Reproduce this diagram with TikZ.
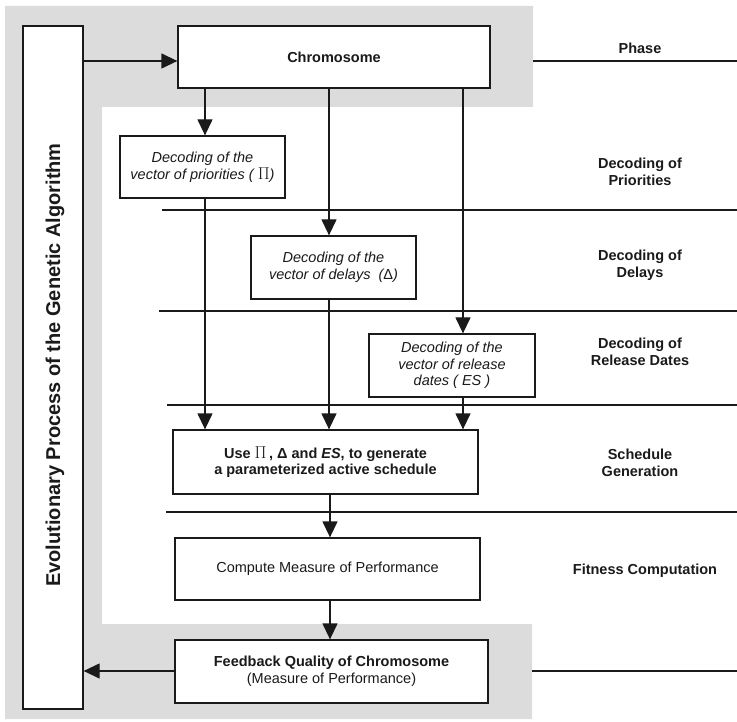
\documentclass[tikz,border=0pt]{standalone}
\usepackage{fontspec}
\setmainfont{Liberation Sans}
\usetikzlibrary{arrows.meta}
\definecolor{bggray}{HTML}{DCDCDC}
\definecolor{ink}{HTML}{1A1A1A}
\newcommand{\bigPi}{{\fontsize{18}{18}\selectfont$\Pi$}}
\begin{document}
\begin{tikzpicture}[x=1pt,y=-1pt,
  box/.style={draw=ink, line width=1.3pt, fill=white, inner sep=0pt, align=center, text=ink},
  lbl/.style={inner sep=0pt, align=center, text=ink, font=\bfseries\fontsize{14.5}{16.7}\selectfont},
  arr/.style={draw=ink, line width=1.3pt, -{Triangle[length=16pt,width=15pt]}},
  phl/.style={draw=ink, line width=1.3pt}]
\useasboundingbox (0,0) rectangle (737,722);
% gray background
\fill[bggray] (5,6) -- (533,6) -- (533,107) -- (102,107) -- (102,624) -- (532,624) -- (532,719) -- (5,719) -- cycle;
% boxes
\node[box, minimum width=60, minimum height=683] (evo) at (53,367.5) {};
\node[text=ink, rotate=90, inner sep=0pt, font=\bfseries\fontsize{20}{24}\selectfont] (evot) at (55,365) {Evolutionary Process of the Genetic Algorithm};
\node[box, minimum width=312, minimum height=62, font=\bfseries\fontsize{14.5}{16.7}\selectfont] (chrom) at (334,57) {Chromosome};
\node[box, minimum width=165, minimum height=62, font=\itshape\fontsize{14.5}{16.7}\selectfont] (prio) at (202.5,167) {Decoding of the\\vector of priorities ( \bigPi)};
\node[box, minimum width=165, minimum height=63, font=\itshape\fontsize{14.5}{16.7}\selectfont] (delay) at (333.5,267.5) {Decoding of the\\vector of delays\ \ (\upshape Δ\itshape)};
\node[box, minimum width=166, minimum height=63, font=\itshape\fontsize{14.5}{16.7}\selectfont] (rel) at (452,365.5) {Decoding of the\\vector of release\\dates ( ES )};
\node[box, minimum width=305, minimum height=64, font=\bfseries\fontsize{14.5}{16.7}\selectfont] (sched) at (325.5,462) {Use \bigPi\,, Δ and \textit{ES}, to generate\\a parameterized active schedule};
\node[box, minimum width=305, minimum height=62, font=\fontsize{14.5}{16.7}\selectfont] (comp) at (327.5,569) {Compute Measure of Performance};
\node[box, minimum width=313, minimum height=63, font=\fontsize{14.5}{16.7}\selectfont] (feed) at (331.5,671.5) {\textbf{Feedback Quality of Chromosome}\\(Measure of Performance)};
% phase labels
\node[lbl] (lphase) at (640,48) {Phase};
\node[lbl] (lprio) at (640,172) {Decoding of\\Priorities};
\node[lbl] (ldel) at (640,265) {Decoding of\\Delays};
\node[lbl] (lrel) at (640,352) {Decoding of\\Release Dates};
\node[lbl] (lsch) at (640,463) {Schedule\\Generation};
\node[lbl] (lfit) at (645,571) {Fitness Computation};
% helper coordinates
\coordinate (c1) at (205,0);
\coordinate (c2) at (329,0);
\coordinate (c3) at (463,0);
\coordinate (c4) at (330,0);
\coordinate (ytop) at (0,61);
\coordinate (ybot) at (0,671);
% phase separator lines
\coordinate (p0a) at (533,61);  \coordinate (p0b) at (737,61);
\coordinate (p1a) at (162,210); \coordinate (p1b) at (737,210);
\coordinate (p2a) at (159,311); \coordinate (p2b) at (737,311);
\coordinate (p3a) at (167,405); \coordinate (p3b) at (737,405);
\coordinate (p4a) at (166,512); \coordinate (p4b) at (737,512);
\coordinate (p5a) at (532,671); \coordinate (p5b) at (737,671);
\draw[phl] (p0a) -- (p0b);
\draw[phl] (p1a) -- (p1b);
\draw[phl] (p2a) -- (p2b);
\draw[phl] (p3a) -- (p3b);
\draw[phl] (p4a) -- (p4b);
\draw[phl] (p5a) -- (p5b);
% arrows
\draw[arr] (evo.east |- ytop) -- (chrom.west |- ytop);
\draw[arr] (chrom.south -| c1) -- (prio.north -| c1);
\draw[arr] (chrom.south -| c2) -- (delay.north -| c2);
\draw[arr] (chrom.south -| c3) -- (rel.north -| c3);
\draw[arr] (prio.south -| c1) -- (sched.north -| c1);
\draw[arr] (delay.south -| c2) -- (sched.north -| c2);
\draw[arr] (rel.south -| c3) -- (sched.north -| c3);
\draw[arr] (sched.south -| c4) -- (comp.north -| c4);
\draw[arr] (comp.south -| c4) -- (feed.north -| c4);
\draw[arr] (feed.west |- ybot) -- (evo.east |- ybot);
\end{tikzpicture}
\end{document}
